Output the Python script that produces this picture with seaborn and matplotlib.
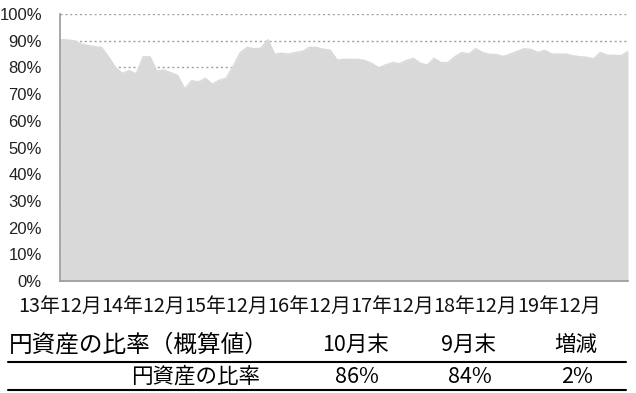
import numpy as np
import pandas as pd
import matplotlib
matplotlib.use("Agg")
import matplotlib.pyplot as plt
from matplotlib.lines import Line2D
import seaborn as sns

# ---- data ----
months = list(range(83))  # 13年12月 .. 20年10月
yen_ratio = [
    90.4, 90.3, 90.0, 88.8, 88.2, 87.8, 87.5, 84.0, 80.0, 77.8,
    78.8, 77.6, 84.0, 84.0, 78.6, 79.0, 78.0, 77.0, 72.0, 75.0,
    74.6, 75.9, 73.7, 75.2, 76.0, 80.5, 85.5, 87.5, 87.0, 87.2,
    90.4, 85.0, 85.3, 85.0, 85.6, 86.0, 87.5, 87.5, 86.8, 86.5,
    82.8, 83.0, 83.0, 83.0, 82.6, 81.5, 79.9, 80.9, 81.8, 81.4,
    82.6, 83.4, 81.6, 80.9, 83.4, 81.8, 81.8, 84.0, 85.6, 85.0,
    87.0, 85.6, 84.9, 84.8, 84.1, 85.0, 86.0, 87.0, 86.7, 85.6,
    86.4, 85.0, 85.0, 85.0, 84.4, 84.0, 83.8, 83.2, 85.6, 84.6,
    84.5, 84.4, 86.0,
]
tick_pos = [0, 12, 24, 36, 48, 60, 72]
tick_labels = ["13年12月", "14年12月", "15年12月", "16年12月", "17年12月", "18年12月", "19年12月"]
y_ticks = [0, 10, 20, 30, 40, 50, 60, 70, 80, 90, 100]

table_header = ["円資産の比率（概算値）", "10月末", "9月末", "増減"]
table_row = ["円資産の比率", "86%", "84%", "2%"]

df = pd.DataFrame({"month": months, "ratio": yen_ratio})

# ---- style ----
sns.set_style("white")
plt.rcParams['font.family'] = ['Noto Sans CJK JP', 'DejaVu Sans']

fig = plt.figure(figsize=(6.36, 3.93), dpi=100)
ax = fig.add_axes([60/636, 1-281/393, (628-60)/636, (281-14)/393])

fill_c = "#d9d9d9"
ax.fill_between(df["month"], 0, df["ratio"], color=fill_c, lw=0, zorder=2)
sns.lineplot(data=df, x="month", y="ratio", ax=ax, color=fill_c, lw=1, zorder=3)

ax.set_xlim(0, 82)
ax.set_ylim(0, 100)
ax.set_yticks(y_ticks)
ax.set_yticklabels([f"{v}%" for v in y_ticks], family=['Liberation Sans', 'DejaVu Sans'],
                   fontsize=12, color="#222222")
ax.set_xticks(tick_pos)
ax.set_xticklabels(tick_labels, fontsize=14.3, color="#111111")
ax.set_xlabel("")
ax.set_ylabel("")

ax.grid(axis="y", linestyle=(0, (1.5, 2)), color="#a0a0a0", lw=1)
ax.set_axisbelow(True)
for s in ["top", "right"]:
    ax.spines[s].set_visible(False)
for s in ["left", "bottom"]:
    ax.spines[s].set_color("#999999")
    ax.spines[s].set_linewidth(1.2)
    ax.spines[s].set_zorder(4)
ax.tick_params(axis="y", length=7, width=1.2, color="#999999", direction="out", pad=6)
ax.tick_params(axis="x", length=6, width=1.2, color="#999999", direction="out", pad=5)

# ---- table ----
def fy(py):
    return 1 - py / 393

def fx(px):
    return px / 636

fs = 15.5
fig.text(fx(9), fy(345), table_header[0], fontsize=17, ha="left", va="center", color="black")
fig.text(fx(356), fy(345), table_header[1], fontsize=fs, ha="center", va="center", color="black")
fig.text(fx(469), fy(345), table_header[2], fontsize=fs, ha="center", va="center", color="black")
fig.text(fx(576), fy(345), table_header[3], fontsize=fs, ha="center", va="center", color="black")

fig.add_artist(Line2D([fx(8), fx(626)], [fy(362), fy(362)], color="black", lw=1.5))

fig.text(fx(260), fy(377), table_row[0], fontsize=fs, ha="right", va="center", color="black")
fig.text(fx(357), fy(377), table_row[1], fontsize=fs, ha="center", va="center", color="black")
fig.text(fx(470), fy(377), table_row[2], fontsize=fs, ha="center", va="center", color="black")
fig.text(fx(577), fy(377), table_row[3], fontsize=fs, ha="center", va="center", color="black")

fig.add_artist(Line2D([fx(8), fx(626)], [fy(390), fy(390)], color="black", lw=1.5))

fig.savefig("out.png", dpi=100)
